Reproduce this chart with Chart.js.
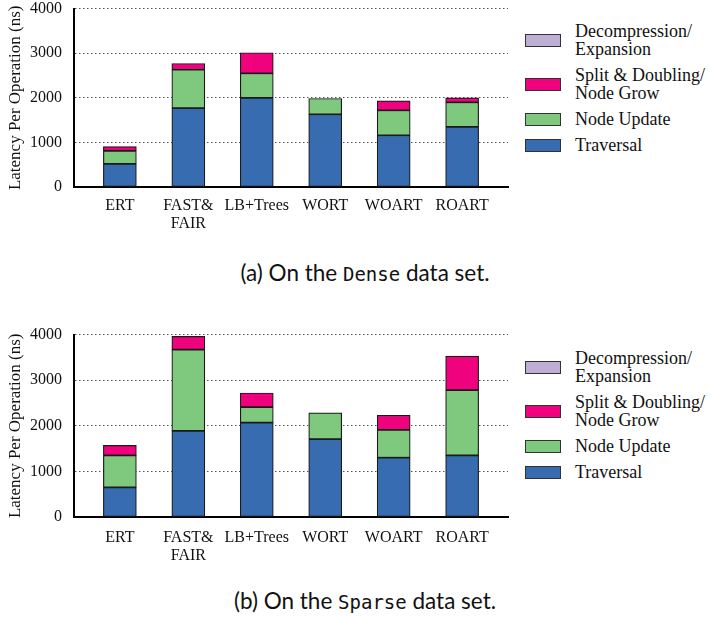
<!DOCTYPE html>
<html>
<head>
<meta charset="utf-8">
<script src="https://cdn.jsdelivr.net/npm/chart.js@4"></script>
<style>
  html, body { margin: 0; padding: 0; background: #fff; }
  body { width: 710px; height: 617px; position: relative; overflow: hidden; }
  .panel { position: absolute; left: 0; }
  .legend {
    position: absolute; left: 525px;
    display: flex; flex-direction: column; gap: 8px;
    font-family: "Liberation Serif", "Times New Roman", serif;
    font-size: 18px; line-height: 18px; color: #111;
  }
  .legend .item { display: flex; align-items: center; }
  .legend .box {
    width: 34px; height: 11px; border: 1.5px solid #333; margin-right: 14px; flex: none;
  }
  .caption {
    position: absolute; left: 0; width: 730px; text-align: center;
    font-family: Lato, "Noto Sans", sans-serif; font-size: 22.5px; color: #111;
  }
  .caption .mono { font-family: "DejaVu Sans Mono", monospace; font-size: 19px; }
</style>
</head>
<body>
<div class="panel" id="p1" style="top:-13px"><canvas id="c1" width="520" height="244"></canvas></div>
<div class="legend" id="l1" style="top:22px"></div>
<div class="caption" style="top:259px">(a) On the <span class="mono">Dense</span> data set.</div>

<div class="panel" id="p2" style="top:313px"><canvas id="c2" width="520" height="252"></canvas></div>
<div class="legend" id="l2" style="top:349px"></div>
<div class="caption" style="top:587px">(b) On the <span class="mono">Sparse</span> data set.</div>

<script>
// Index structures compared
const categories = ['ERT', ['FAST&', 'FAIR'], 'LB+Trees', 'WORT', 'WOART', 'ROART'];

// Latency breakdown per operation (ns), Dense keys
const denseTraversal  = [520, 1770, 2000, 1630, 1160, 1350];
const denseNodeUpdate = [290,  860,  550,  355,  560,  550];
const denseSplit      = [ 95,  140,  460,    0,  210,  100];
const denseDecomp     = [  0,    0,    0,    0,    0,    0];

// Latency breakdown per operation (ns), Sparse keys
const sparseTraversal  = [650, 1890, 2070, 1710, 1300, 1350];
const sparseNodeUpdate = [700, 1780,  340,  575,  610, 1430];
const sparseSplit      = [220,  290,  310,    0,  320,  750];
const sparseDecomp     = [  0,    0,    0,    0,    0,    0];

const yTicks = [0, 1000, 2000, 3000, 4000];

const seriesNames = ['Traversal', 'Node Update', ['Split & Doubling/', 'Node Grow'], ['Decompression/', 'Expansion']];
const seriesColors = ['#386cb0', '#7fc97f', '#f0027f', '#beaed4'];

const serif = '"Liberation Serif", "Times New Roman", serif';

function makeChart(canvasId, series, xPad, xHeight) {
  const datasets = series.map((vals, k) => ({
    label: Array.isArray(seriesNames[k]) ? seriesNames[k].join(' ') : seriesNames[k],
    data: vals.map((v, i) => ({ x: i, y: v })),
    backgroundColor: seriesColors[k],
    borderColor: '#1a1a1a',
    borderWidth: 1.2,
    borderSkipped: false,
    barThickness: 33
  }));
  return new Chart(document.getElementById(canvasId), {
    type: 'bar',
    data: { datasets },
    options: {
      responsive: false,
      animation: false,
      devicePixelRatio: 1,
      layout: { padding: { top: 20, right: 12, left: 0, bottom: 0 } },
      plugins: { legend: { display: false }, tooltip: { enabled: false } },
      scales: {
        x: {
          type: 'linear',
          stacked: true,
          offset: false,
          min: -0.67,
          max: 5.67,
          afterBuildTicks: s => { s.ticks = categories.map((_, i) => ({ value: i })); },
          afterFit: s => { s.height = xHeight; },
          grid: { display: false, drawTicks: false },
          border: { display: true, color: '#000', width: 2 },
          ticks: {
            autoSkip: false, maxRotation: 0, padding: xPad,
            color: '#111',
            font: { family: serif, size: 16, lineHeight: 1.125 },
            callback: v => categories[v]
          }
        },
        y: {
          stacked: true,
          min: yTicks[0],
          max: yTicks[yTicks.length - 1],
          afterBuildTicks: s => { s.ticks = yTicks.map(v => ({ value: v })); },
          afterFit: s => { s.width = 74; },
          grid: { drawTicks: false, color: '#555', lineWidth: 1 },
          border: { display: true, color: '#000', width: 2, dash: [1.5, 2.5] },
          ticks: {
            padding: 12, color: '#111', font: { family: serif, size: 16 },
            callback: v => String(v)
          },
          title: {
            display: true,
            text: 'Latency Per Operation (ns)',
            color: '#111',
            font: { family: serif, size: 17, lineHeight: 1.2 },
            padding: { top: 5, bottom: 0 }
          }
        }
      }
    }
  });
}

function makeLegend(id) {
  const el = document.getElementById(id);
  for (let k = seriesNames.length - 1; k >= 0; k--) {
    const item = document.createElement('div');
    item.className = 'item';
    const box = document.createElement('div');
    box.className = 'box';
    box.style.background = seriesColors[k];
    const txt = document.createElement('div');
    const name = seriesNames[k];
    (Array.isArray(name) ? name : [name]).forEach(line => {
      const d = document.createElement('div');
      d.textContent = line;
      txt.appendChild(d);
    });
    item.appendChild(box);
    item.appendChild(txt);
    el.appendChild(item);
  }
}

makeChart('c1', [denseTraversal, denseNodeUpdate, denseSplit, denseDecomp], 10, 44);
makeChart('c2', [sparseTraversal, sparseNodeUpdate, sparseSplit, sparseDecomp], 12, 48);
makeLegend('l1');
makeLegend('l2');
</script>
</body>
</html>
